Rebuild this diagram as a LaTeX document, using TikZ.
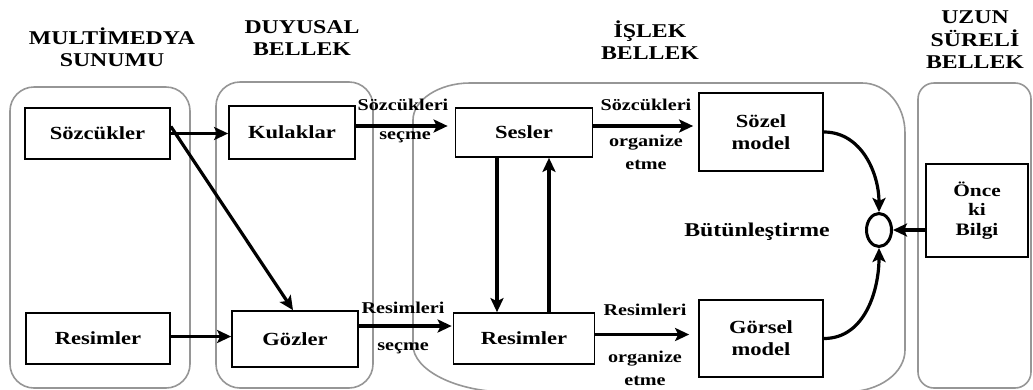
\documentclass[tikz,border=0pt]{standalone}
\usepackage{fontspec}
\setmainfont{Liberation Serif}[FakeStretch=1.22]
\usetikzlibrary{arrows.meta,shapes.geometric,calc}
\definecolor{panelgray}{RGB}{150,150,150}
\begin{document}
\begin{tikzpicture}[x=1pt,y=-1pt,
  panel/.style={draw=panelgray, line width=1.6pt, rounded corners=24pt},
  stagebox/.style={draw, line width=1.7pt, inner sep=0pt, align=center,
    font=\bfseries\fontsize{18.5}{22}\selectfont},
  heading/.style={font=\bfseries\fontsize{19.5}{22.5}\selectfont, align=center, inner sep=0pt},
  lbl/.style={font=\bfseries\fontsize{16.5}{19}\selectfont, inner sep=0pt},
  flow/.style={line width=3.2pt, -{Stealth[length=14pt,width=13pt,inset=3pt]}},
]
\useasboundingbox (0,0) rectangle (1033,389);

% memory stores
\draw[panel] (10,87) rectangle (190,388);
\draw[panel] (216,82) rectangle (373,388);
\draw[panel, rounded corners=16pt] (918,83) rectangle (1031,388);
\draw[draw=panelgray, line width=1.6pt]
  (413,120) -- (413,345)
  .. controls (413,370) and (456,392) .. (508,392)
  -- (845,392)
  .. controls (881,392) and (905,372) .. (905,350)
  -- (905,133)
  .. controls (905,105) and (886,83) .. (862,83)
  -- (470,83)
  .. controls (439,83) and (413,100) .. (413,120) -- cycle;

% headings
\node[heading] (h1) at (112,47) {MULTİMEDYA\\SUNUMU};
\node[heading] (h2) at (302,38) {DUYUSAL\\BELLEK};
\node[heading] (h3) at (650,40) {İŞLEK\\BELLEK};
\node[heading] (h4) at (975,40) {UZUN\\SÜRELİ\\BELLEK};

% boxes
\node[stagebox, minimum width=145pt, minimum height=51pt] (sozcukler) at (97.5,133.5) {Sözcükler};
\node[stagebox, minimum width=144pt, minimum height=51pt] (resimL) at (98,338.5) {Resimler};
\node[stagebox, minimum width=126pt, minimum height=53pt] (kulaklar) at (292,132.5) {Kulaklar};
\node[stagebox, minimum width=126pt, minimum height=56pt] (gozler) at (295,339) {Gözler};
\node[stagebox, minimum width=137pt, minimum height=49pt] (sesler) at (524,132.5) {Sesler};
\node[stagebox, minimum width=141pt, minimum height=51pt] (resimM) at (524,338.5) {Resimler};
\node[stagebox, minimum width=124pt, minimum height=78pt] (sozel) at (761,132) {Sözel\\model};
\node[stagebox, minimum width=124pt, minimum height=77pt] (gorsel) at (761,338.5) {Görsel\\model};
\node[stagebox, minimum width=102pt, minimum height=93pt,
  font=\bfseries\fontsize{17.5}{19.5}\selectfont] (once) at (977,210.5) {Önce\\ki\\Bilgi};
\node[draw, ellipse, line width=3pt, minimum width=25pt, minimum height=33pt, inner sep=0pt] (merge) at (879,230) {};
\node[font=\bfseries\fontsize{19.5}{22}\selectfont, inner sep=0pt] (butun) at (757,232) {Bütünleştirme};

% labels
\node[lbl] (l1) at (403,105) {Sözcükleri};
\node[lbl] (l2) at (405,137) {seçme};
\node[lbl] (l3) at (403,308) {Resimleri};
\node[lbl] (l4) at (403,348) {seçme};
\node[lbl] (l5) at (646,105) {Sözcükleri};
\node[lbl] (l6) at (646,143) {organize};
\node[lbl] (l7) at (646,165) {etme};
\node[lbl] (l8) at (645,310) {Resimleri};
\node[lbl] (l9) at (645,359) {organize};
\node[lbl] (l10) at (645,381) {etme};

% connectors
\coordinate (a4) at ([yshift=6.5pt]kulaklar.east);
\coordinate (a3) at ([yshift=13pt]gozler.east);
\coordinate (a5) at ([yshift=2pt]resimL.east);
\coordinate (a1) at ([yshift=6.5pt]sesler.east);
\coordinate (a2) at ([yshift=4pt]resimM.east);

\draw[flow] (sozcukler.east) -- (sozcukler.east -| kulaklar.west);
\draw[flow] ([yshift=7pt]sozcukler.east) -- ([xshift=-2pt]gozler.north);
\draw[flow] (a5) -- (a5 -| gozler.west);
\draw[flow, shorten >=7pt] (a4) -- (a4 -| sesler.west);
\draw[flow, shorten >=1pt] (a3) -- (a3 -| resimM.west);
\draw[flow] ([xshift=-27pt]sesler.south) -- ([xshift=-27pt]resimM.north);
\draw[flow] ([xshift=25pt]resimM.north) -- ([xshift=25pt]sesler.south);
\draw[flow, shorten >=5pt] (a1) -- (a1 -| sozel.west);
\draw[flow, shorten >=9pt] (a2) -- (a2 -| gorsel.west);
\draw[flow] (sozel.east) to[out=0, in=90] (merge.north);
\draw[flow] (gorsel.east) to[out=0, in=-90] (merge.south);
\draw[flow] (once.west |- merge.east) -- (merge.east);
\end{tikzpicture}
\end{document}
